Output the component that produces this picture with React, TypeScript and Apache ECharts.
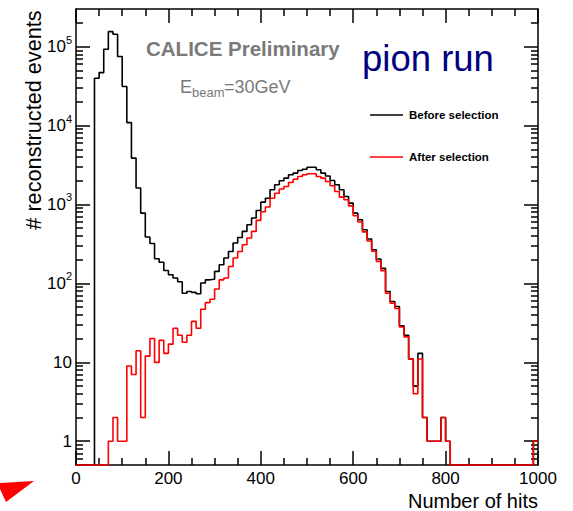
import React, { useEffect, useRef } from 'react';
import * as echarts from 'echarts';

// ---- data ----
const BIN_WIDTH = 10;
const X_MIN = 0;
const X_MAX = 1000;
const X_INTERVAL = 200;
const Y_MIN = 0.5;
const Y_MAX = 3e5;

const seriesNames = ['Before selection', 'After selection'];

// counts per bin of 10 hits, bins starting at 0, 10, ..., 990
const beforeSelection = [
  0, 0, 0, 0, 39800, 46900, 92700, 155000, 143600, 75000,
  31200, 10900, 3870, 1615, 778, 387, 320, 205, 185, 146,
  129, 117, 105, 75, 79, 77, 74, 101, 111, 113,
  142, 172, 210, 254, 325, 382, 456, 553, 674, 840,
  1070, 1200, 1535, 1780, 2000, 2160, 2380, 2500, 2700, 2800,
  2970, 2970, 2750, 2500, 2300, 2010, 1780, 1535, 1260, 1040,
  778, 640, 478, 365, 267, 204, 155, 79, 59, 51,
  29, 22, 11, 5, 13, 2, 1, 1, 1, 2,
  1, 0, 0, 0, 0, 0, 0, 0, 0, 0,
  0, 0, 0, 0, 0, 0, 0, 0, 0, 1,
];

const afterSelection = [
  0, 0, 0, 0, 0, 0, 0, 1, 2, 1,
  1, 9, 7, 14, 2, 12, 20, 10, 19, 13,
  17, 27, 22, 18, 22, 33, 27, 47, 57, 63,
  85, 111, 117, 164, 210, 254, 309, 376, 456, 630,
  810, 930, 1200, 1390, 1570, 1690, 1900, 2090, 2260, 2380,
  2450, 2450, 2260, 2160, 1960, 1725, 1460, 1240, 1150, 960,
  720, 600, 450, 345, 255, 190, 145, 75, 56, 48,
  28, 21, 11, 4, 11, 2, 1, 1, 1, 2,
  1, 0, 0, 0, 0, 0, 0, 0, 0, 0,
  0, 0, 0, 0, 0, 0, 0, 0, 0, 1,
];

const yMajorTicks = [1, 10, 100, 1000, 10000, 100000];
const yMinorTicks = [
  0.6, 0.7, 0.8, 0.9,
  2, 3, 4, 5, 6, 7, 8, 9,
  20, 30, 40, 50, 60, 70, 80, 90,
  200, 300, 400, 500, 600, 700, 800, 900,
  2000, 3000, 4000, 5000, 6000, 7000, 8000, 9000,
  20000, 30000, 40000, 50000, 60000, 70000, 80000, 90000,
  200000,
];

const FONT = '"Liberation Sans", Arial, Helvetica, sans-serif';

function toSteps(vals: number[]) {
  const pts: number[][] = vals.map((v, i) => [X_MIN + i * BIN_WIDTH, v > 0 ? v : Y_MIN]);
  const last = vals[vals.length - 1];
  pts.push([X_MIN + vals.length * BIN_WIDTH, last > 0 ? last : Y_MIN]);
  return pts;
}

export default function App() {
  const ref = useRef<HTMLDivElement>(null);
  useEffect(() => {
    const chart = echarts.init(ref.current!, undefined, { renderer: 'svg' });
    const tickLine = { color: '#000', width: 1.5 };
    const frameLine = { show: true, lineStyle: { color: '#000', width: 1.5 } };
    const xBase = {
      type: 'value',
      min: X_MIN,
      max: X_MAX,
      interval: X_INTERVAL,
      axisLine: frameLine,
      axisTick: { show: true, inside: true, length: 14, lineStyle: tickLine },
      minorTick: { show: true, splitNumber: 4, length: 7, lineStyle: tickLine },
      splitLine: { show: false },
      minorSplitLine: { show: false },
    };
    const yBase = {
      type: 'log',
      logBase: 10,
      min: Y_MIN,
      max: Y_MAX,
      splitLine: { show: false },
      minorSplitLine: { show: false },
    };
    const option = {
      animation: false,
      textStyle: { fontFamily: FONT },
      grid: { left: 76, right: 35, top: 9, bottom: 46, containLabel: false },
      legend: {
        data: seriesNames.map((name) => ({ name, icon: 'rect' })),
        orient: 'vertical',
        left: 370,
        top: 108,
        itemWidth: 33,
        itemHeight: 1.6,
        itemGap: 28,
        padding: 0,
        selectedMode: false,
        textStyle: { fontFamily: FONT, fontWeight: 'bold', fontSize: 11.5, color: '#000', lineHeight: 14, padding: [0, 0, 0, 1] },
      },
      xAxis: [
        {
          ...xBase,
          position: 'bottom',
          axisLabel: { fontSize: 17, color: '#000', margin: 5, fontFamily: FONT, formatter: (v: number) => String(v) },
        },
        {
          ...xBase,
          position: 'top',
          axisLabel: { show: false },
        },
      ],
      yAxis: [
        {
          ...yBase,
          position: 'left',
          axisLine: frameLine,
          axisTick: { show: true, inside: true, length: 14, customValues: yMajorTicks, lineStyle: tickLine },
          axisLabel: {
            customValues: yMajorTicks,
            fontSize: 17,
            color: '#000',
            margin: 4,
            fontFamily: FONT,
            formatter: (v: number) => {
              const e = Math.round(Math.log10(v));
              if (e === 0) return '1';
              if (e === 1) return '10';
              return '10{s|' + e + '}';
            },
            rich: {
              s: { fontSize: 11, color: '#000', fontFamily: FONT, verticalAlign: 'top', padding: [0, 0, 14, 0] },
            },
          },
        },
        {
          ...yBase,
          position: 'left',
          axisLine: { show: false },
          axisTick: { show: true, inside: true, length: 7, customValues: yMinorTicks, lineStyle: tickLine },
          axisLabel: { show: false },
        },
        {
          ...yBase,
          position: 'right',
          axisLine: frameLine,
          axisTick: { show: true, inside: true, length: 14, customValues: yMajorTicks, lineStyle: tickLine },
          axisLabel: { show: false },
        },
        {
          ...yBase,
          position: 'right',
          axisLine: { show: false },
          axisTick: { show: true, inside: true, length: 7, customValues: yMinorTicks, lineStyle: tickLine },
          axisLabel: { show: false },
        },
      ],
      series: [
        {
          name: seriesNames[0],
          type: 'line',
          step: 'end',
          xAxisIndex: 0,
          yAxisIndex: 0,
          symbol: 'none',
          clip: false,
          silent: true,
          color: '#000000',
          lineStyle: { color: '#000000', width: 1.6 },
          data: toSteps(beforeSelection),
        },
        {
          name: seriesNames[1],
          type: 'line',
          step: 'end',
          xAxisIndex: 0,
          yAxisIndex: 0,
          symbol: 'none',
          clip: false,
          silent: true,
          color: '#ff0000',
          lineStyle: { color: '#ff0000', width: 1.6 },
          data: toSteps(afterSelection),
        },
      ],
      graphic: [
        {
          type: 'text',
          x: 146,
          y: 48,
          style: { text: 'CALICE Preliminary', fill: '#7a7a7a', font: 'bold 20.5px ' + FONT, align: 'left', verticalAlign: 'middle' },
        },
        {
          type: 'text',
          x: 180,
          y: 87,
          style: { text: 'E', fill: '#7a7a7a', font: '18px ' + FONT, align: 'left', verticalAlign: 'middle' },
        },
        {
          type: 'text',
          x: 192,
          y: 92,
          style: { text: 'beam', fill: '#7a7a7a', font: '13px ' + FONT, align: 'left', verticalAlign: 'middle' },
        },
        {
          type: 'text',
          x: 224,
          y: 87,
          style: { text: '=30GeV', fill: '#7a7a7a', font: '18px ' + FONT, align: 'left', verticalAlign: 'middle' },
        },
        {
          type: 'text',
          x: 362,
          y: 58,
          style: { text: 'pion run', fill: '#000080', font: '36.5px ' + FONT, align: 'left', verticalAlign: 'middle' },
        },
        {
          type: 'text',
          x: 33.5,
          y: 120,
          rotation: Math.PI / 2,
          style: { text: '# reconstructed events', fill: '#000', font: '21.7px ' + FONT, align: 'center', verticalAlign: 'middle' },
        },
        {
          type: 'text',
          x: 538,
          y: 501,
          style: { text: 'Number of hits', fill: '#000', font: '20px ' + FONT, align: 'right', verticalAlign: 'middle' },
        },
        {
          type: 'polygon',
          shape: { points: [[0, 483], [34, 481], [6, 502], [0, 489]] },
          style: { fill: '#ff0000' },
        },
      ],
    };
    chart.setOption(option as any);
    return () => chart.dispose();
  }, []);
  return (
    <div
      ref={ref}
      style={{ position: 'fixed', left: 0, top: 0, width: 573, height: 511, background: '#fff' }}
    />
  );
}
